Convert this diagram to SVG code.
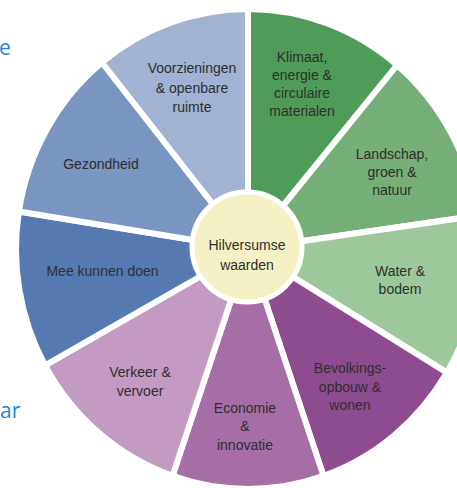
<svg xmlns="http://www.w3.org/2000/svg" width="457" height="488" viewBox="0 0 457 488">
<style>
.seg{stroke:#fff;stroke-width:6;stroke-linejoin:miter}
.lbl{font-family:"Liberation Sans",Arial,sans-serif;font-size:14px;fill:#2e2e2e;text-anchor:middle}
.side{font-family:"Open Sans","Liberation Sans",sans-serif;font-size:21px;fill:#1a8ad4}
</style>
<rect width="457" height="488" fill="#fff"/>
<text class="side" x="-1" y="55">e</text>
<text class="side" x="0" y="418">ar</text>
<g id="klimaat">
<path class="seg" fill="#4e9c58" d="M248,249 L248,9 A232,240 0 0 1 397.1,65.2 Z"/>
<text class="lbl" x="302" y="62">Klimaat,</text>
<text class="lbl" x="302" y="80">energie &amp;</text>
<text class="lbl" x="302" y="98">circulaire</text>
<text class="lbl" x="302" y="116">materialen</text>
</g>
<g id="landschap">
<path class="seg" fill="#76ae77" d="M248,249 L397.1,65.2 A232,240 0 0 1 477.7,215.6 Z"/>
<text class="lbl" x="392" y="159">Landschap,</text>
<text class="lbl" x="392" y="177">groen &amp;</text>
<text class="lbl" x="392" y="195">natuur</text>
</g>
<g id="water">
<path class="seg" fill="#9dc89c" d="M248,249 L477.7,215.6 A232,240 0 0 1 446.9,372.6 Z"/>
<text class="lbl" x="400" y="276">Water &amp;</text>
<text class="lbl" x="400" y="294">bodem</text>
</g>
<g id="bevolking">
<path class="seg" fill="#8f4b90" d="M248,249 L446.9,372.6 A232,240 0 0 1 323.5,475.9 Z"/>
<text class="lbl" x="350" y="373">Bevolkings-</text>
<text class="lbl" x="350" y="392">opbouw &amp;</text>
<text class="lbl" x="350" y="410">wonen</text>
</g>
<g id="economie">
<path class="seg" fill="#a56ea6" d="M248,249 L323.5,475.9 A232,240 0 0 1 172.5,475.9 Z"/>
<text class="lbl" x="245" y="413">Economie</text>
<text class="lbl" x="245" y="431">&amp;</text>
<text class="lbl" x="245" y="450">innovatie</text>
</g>
<g id="verkeer">
<path class="seg" fill="#c29ac2" d="M248,249 L172.5,475.9 A232,240 0 0 1 45.1,365.4 Z"/>
<text class="lbl" x="140" y="377">Verkeer &amp;</text>
<text class="lbl" x="140" y="396">vervoer</text>
</g>
<g id="meekunnendoen">
<path class="seg" fill="#5579b1" d="M248,249 L45.1,365.4 A232,240 0 0 1 18.9,211.5 Z"/>
<text class="lbl" x="102.5" y="276">Mee kunnen doen</text>
</g>
<g id="gezondheid">
<path class="seg" fill="#7a95c2" d="M248,249 L18.9,211.5 A232,240 0 0 1 102,62.5 Z"/>
<text class="lbl" x="101" y="169">Gezondheid</text>
</g>
<g id="voorzieningen">
<path class="seg" fill="#a2b2d2" d="M248,249 L102,62.5 A232,240 0 0 1 248,9 Z"/>
<text class="lbl" x="192" y="73">Voorzieningen</text>
<text class="lbl" x="192" y="93">&amp; openbare</text>
<text class="lbl" x="192" y="112">ruimte</text>
</g>
<g id="center">
<circle cx="247" cy="247" r="55" fill="#f4f2c4" stroke="#fff" stroke-width="5"/>
<text class="lbl" x="247" y="250">Hilversumse</text>
<text class="lbl" x="247" y="270">waarden</text>
</g>
<g id="connectors"></g>
</svg>
